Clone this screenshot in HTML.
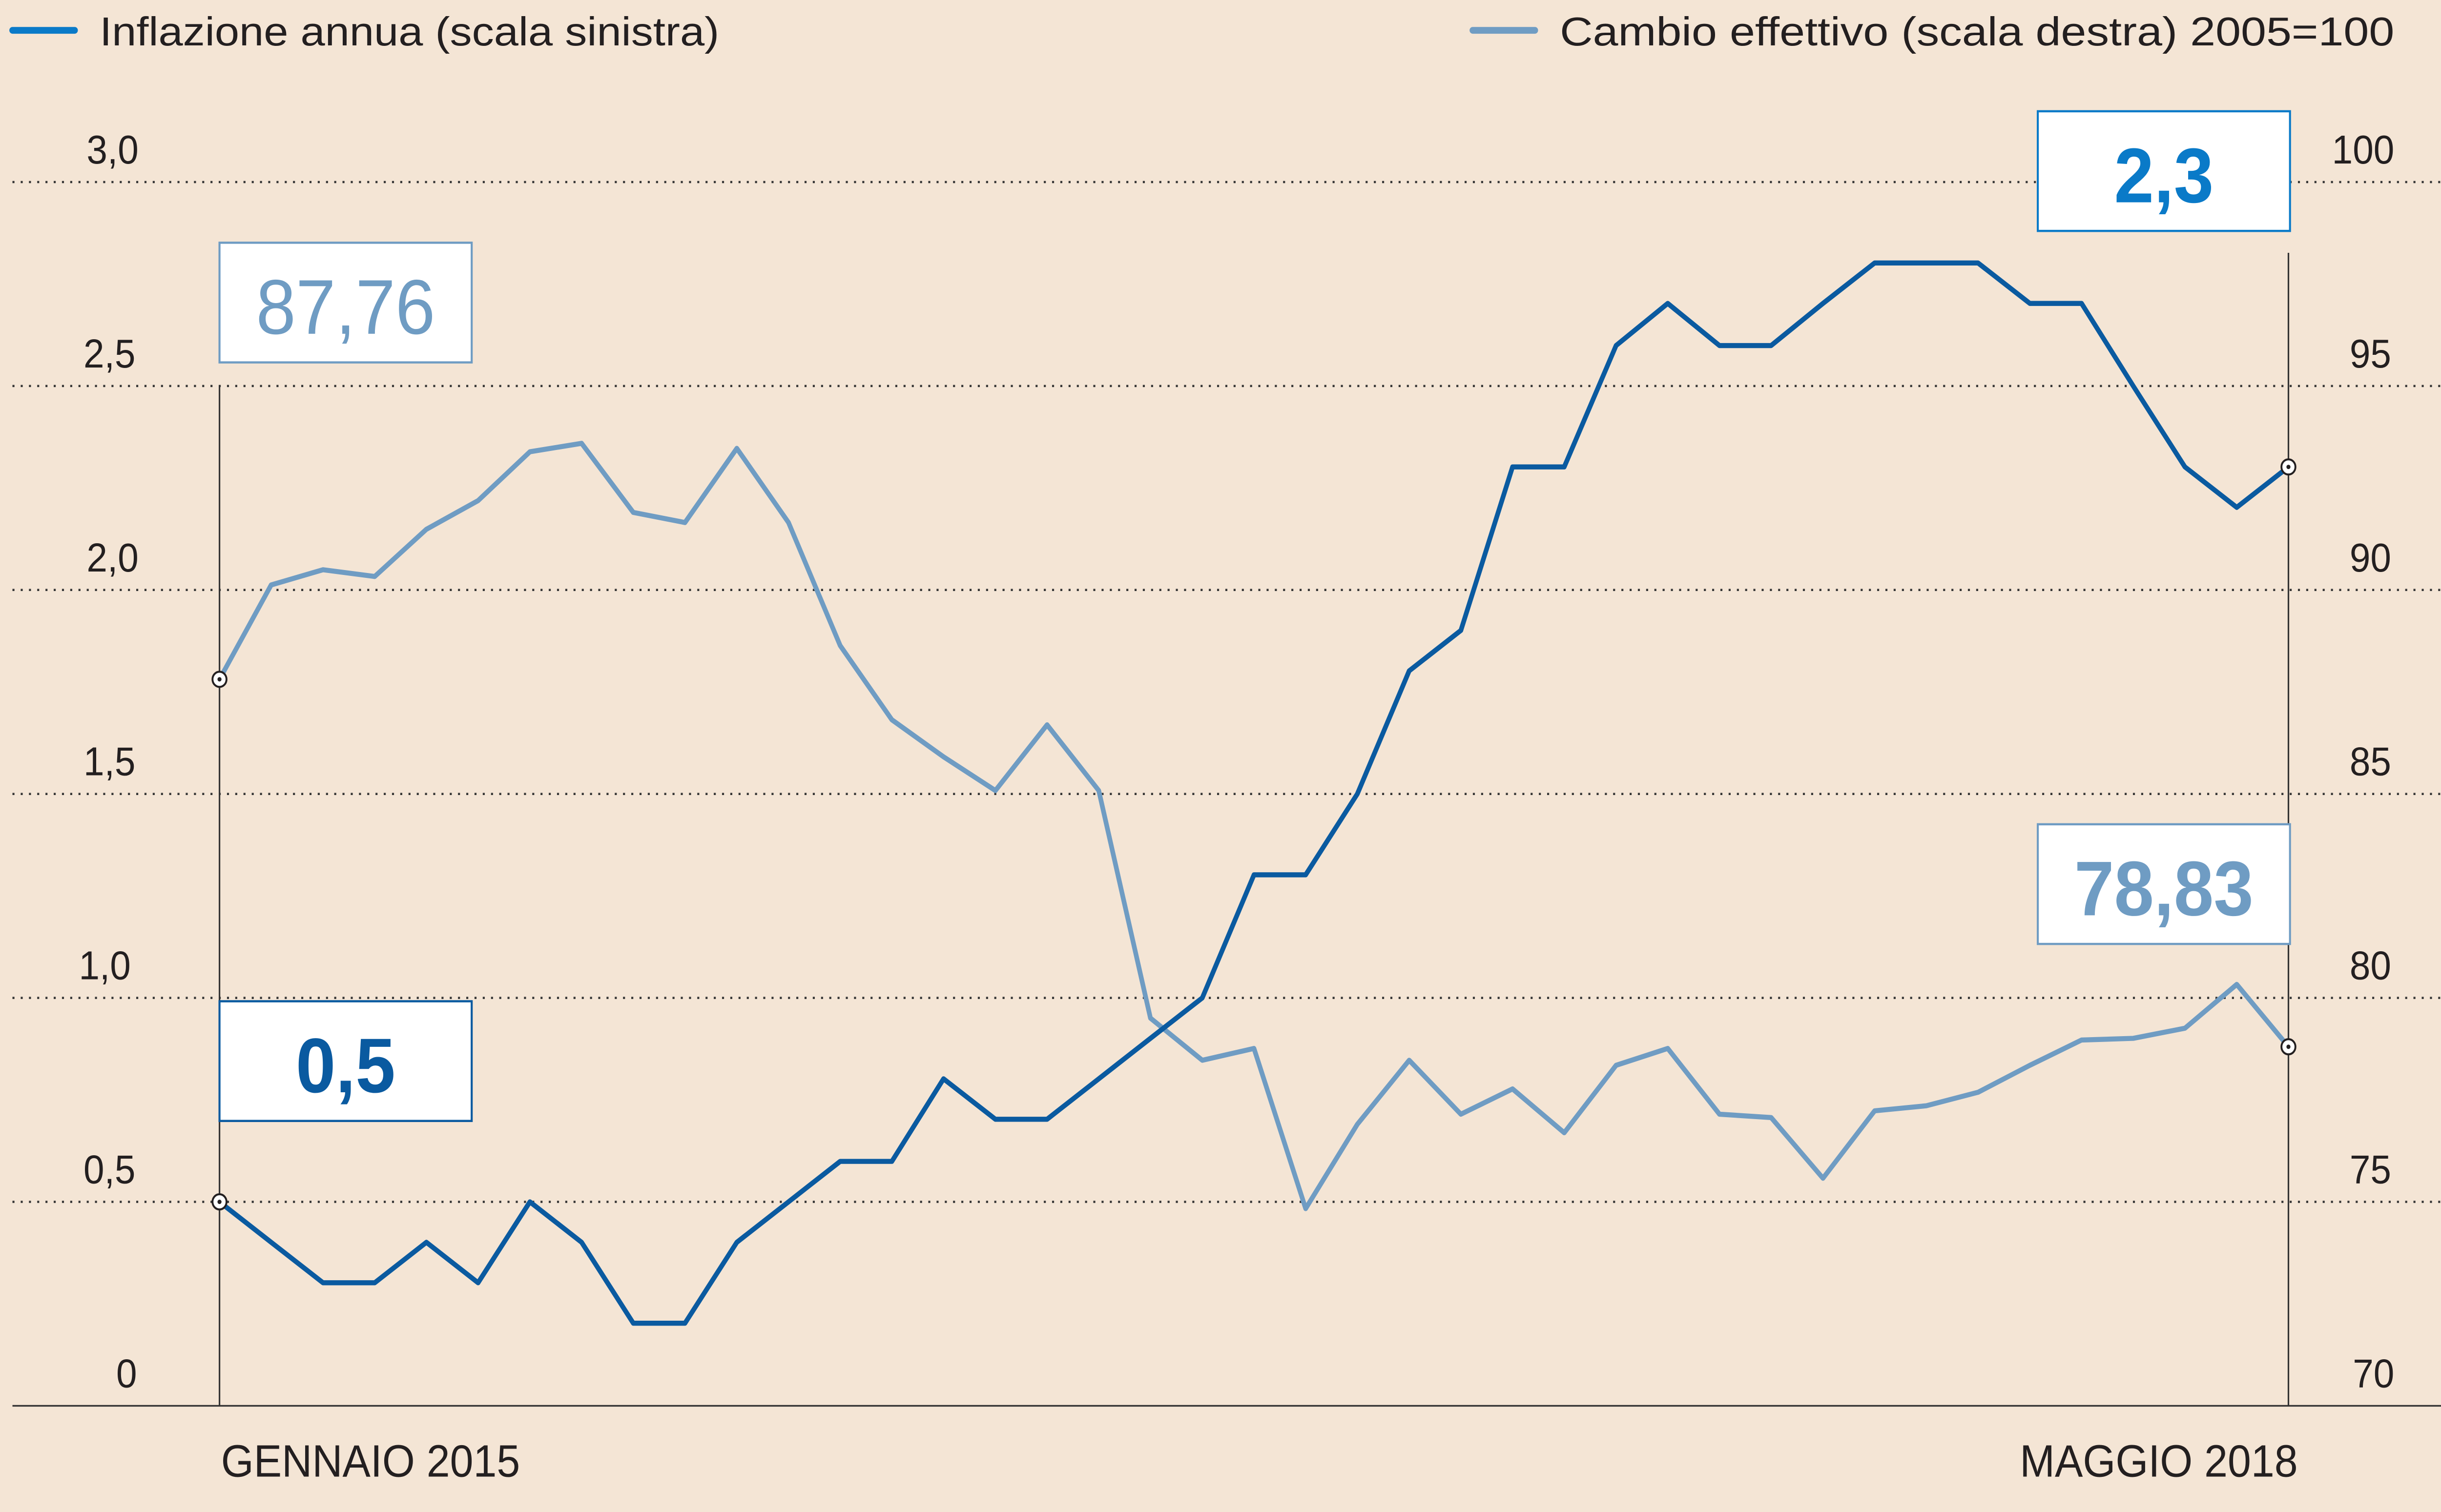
<!DOCTYPE html>
<html><head><meta charset="utf-8"><style>html,body{margin:0;padding:0;background:#f4e5d5;width:100%;height:100%;overflow:hidden}svg{display:block;width:100vw;height:100vh}</style></head>
<body>
<svg viewBox="0 0 1568 897" preserveAspectRatio="none" xmlns="http://www.w3.org/2000/svg" font-family="'Liberation Sans', sans-serif">
<rect width="1568" height="897" fill="#f4e5d5"/>
<line x1="8" y1="18" x2="48" y2="18" stroke="#0a7ac8" stroke-width="4" stroke-linecap="round"/>
<text x="64" y="27" font-size="24" fill="#231f20" textLength="398" lengthAdjust="spacingAndGlyphs">Inflazione annua (scala sinistra)</text>
<line x1="946" y1="18" x2="986" y2="18" stroke="#6f9cc3" stroke-width="4" stroke-linecap="round"/>
<text x="1002" y="27" font-size="24" fill="#231f20" textLength="536" lengthAdjust="spacingAndGlyphs">Cambio effettivo (scala destra) 2005=100</text>
<g stroke="#333" stroke-width="1.3" stroke-dasharray="1.3 4">
<line x1="8" y1="108" x2="1568" y2="108"/><line x1="8" y1="229" x2="1568" y2="229"/>
<line x1="8" y1="350" x2="1568" y2="350"/><line x1="8" y1="471" x2="1568" y2="471"/>
<line x1="8" y1="592" x2="1568" y2="592"/><line x1="8" y1="713" x2="1568" y2="713"/>
</g>
<line x1="8" y1="834" x2="1568" y2="834" stroke="#333" stroke-width="1"/>
<line x1="141" y1="229" x2="141" y2="834" stroke="#333" stroke-width="1"/>
<line x1="1470" y1="150" x2="1470" y2="834" stroke="#333" stroke-width="1"/>
<g font-size="24" fill="#231f20" text-anchor="end">
<text x="89" y="97">3,0</text><text x="87" y="218">2,5</text><text x="89" y="339">2,0</text>
<text x="87" y="460">1,5</text><text x="84" y="581">1,0</text><text x="87" y="702">0,5</text><text x="88" y="823">0</text>
</g>
<g font-size="24" fill="#231f20" text-anchor="end">
<text x="1538" y="97">100</text><text x="1536" y="218">95</text><text x="1536" y="339">90</text>
<text x="1536" y="460">85</text><text x="1536" y="581">80</text><text x="1536" y="702">75</text><text x="1538" y="823">70</text>
</g>
<text x="142" y="876" font-size="27" fill="#231f20">GENNAIO 2015</text>
<text x="1476" y="876" font-size="27" fill="#231f20" text-anchor="end">MAGGIO 2018</text>
<polyline fill="none" stroke="#6f9cc3" stroke-width="3" stroke-linejoin="round" points="141,403 174.2,347 207.5,338 240.7,342 273.9,314 307.1,297 340.4,268 373.6,263 406.8,304 440,310 473.3,266 506.5,310 539.7,383 572.9,427 606.1,449 639.4,469 672.6,430 705.8,469 739,604 772.3,629 805.5,622 838.7,717 871.9,667 905.2,629 938.4,661 971.6,646 1004.8,672 1038.1,632 1071.3,622 1104.5,661 1137.7,663 1171,699 1204.2,659 1237.4,656 1270.6,648 1303.9,632 1337.1,617 1370.3,616 1403.5,610 1436.8,584 1470,621"/>
<polyline fill="none" stroke="#0a5aa0" stroke-width="3" stroke-linejoin="round" points="141,713 174.2,737 207.5,761 240.7,761 273.9,737 307.1,761 340.4,713 373.6,737 406.8,785 440,785 473.3,737 506.5,713 539.7,689 572.9,689 606.1,640 639.4,664 672.6,664 705.8,640 739,616 772.3,592 805.5,519 838.7,519 871.9,471 905.2,398 938.4,374 971.6,277 1004.8,277 1038.1,205 1071.3,180 1104.5,205 1137.7,205 1171,180 1204.2,156 1237.4,156 1270.6,156 1303.9,180 1337.1,180 1370.3,229 1403.5,277 1436.8,301 1470,277"/>
<g fill="#fff" stroke="#231f20" stroke-width="1.2">
<circle cx="141" cy="403" r="4.5"/><circle cx="141" cy="713" r="4.5"/>
<circle cx="1470" cy="277" r="4.5"/><circle cx="1470" cy="621" r="4.5"/>
</g>
<g fill="#231f20"><circle cx="141" cy="403" r="1.3"/><circle cx="141" cy="713" r="1.3"/><circle cx="1470" cy="277" r="1.3"/><circle cx="1470" cy="621" r="1.3"/></g>
<g stroke-width="1.3" fill="#fff">
<rect x="141" y="144" width="162" height="71" stroke="#6f9cc3"/>
<rect x="141" y="594" width="162" height="71" stroke="#0a5aa0"/>
<rect x="1309" y="66" width="162" height="71" stroke="#0a7ac8"/>
<rect x="1309" y="489" width="162" height="71" stroke="#6f9cc3"/>
</g>
<g font-size="46" text-anchor="middle">
<text x="222" y="198" fill="#6f9cc3">87,76</text>
<text x="222" y="648" fill="#0a5aa0" font-weight="bold">0,5</text>
<text x="1390" y="120" fill="#0a7ac8" font-weight="bold">2,3</text>
<text x="1390" y="543" fill="#6f9cc3" font-weight="bold">78,83</text>
</g>
</svg>
</body></html>
